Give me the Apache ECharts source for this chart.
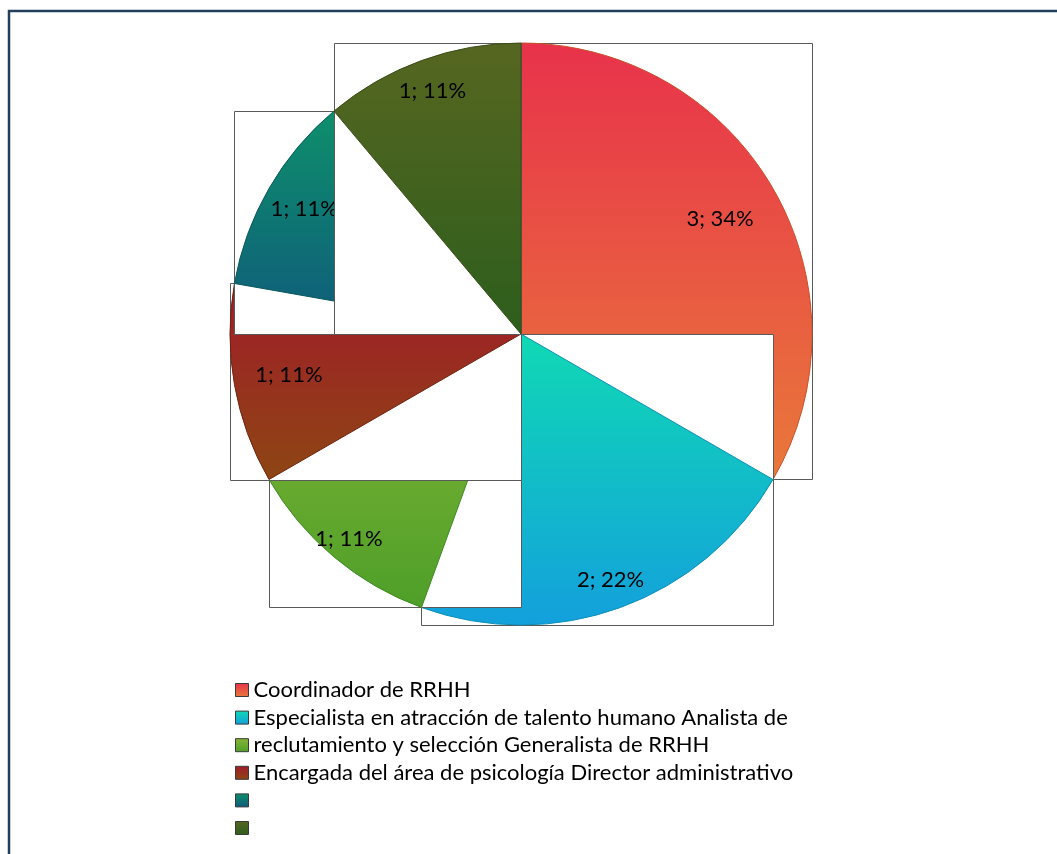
<!DOCTYPE html>
<html>
<head>
<meta charset="utf-8">
<script src="https://cdn.jsdelivr.net/npm/echarts@6/dist/echarts.min.js"></script>
<style>
  html, body { margin: 0; padding: 0; background: #ffffff; }
  #chart { width: 1057px; height: 854px; }
</style>
</head>
<body>
<div id="chart"></div>
<script>
// Puestos del área de RRHH: número de personas por cargo
const categories = [
  'Coordinador de RRHH',
  'Especialista en atracción de talento humano Analista de',
  'reclutamiento y selección Generalista de RRHH',
  'Encargada del área de psicología Director administrativo',
  ' ',
  '  '
];
const values = [3, 2, 1, 1, 1, 1];

// ---- styling / layout ----
const FONT = 'Lato, "Open Sans", sans-serif';
const CX = 521, CY = 334, R = 291;
// vertical gradient (top, bottom) and edge colour per slice
const sliceGradients = [
  ['#E8324B', '#E9793A'],
  ['#10D9B4', '#13A0DC'],
  ['#87B637', '#4E9F29'],
  ['#A11B2A', '#8D4613'],
  ['#0E8F6B', '#0F5A7B'],
  ['#566620', '#2D5E1D']
];
const sliceEdges = ['#C9502A', '#0E8FB8', '#3F8A25', '#6E2410', '#0B5A5E', '#3A4C18'];
// label distance from centre, as a share of the radius
const labelRadius = [0.79, 0.90, 0.92, 0.81, 0.86, 0.89];

function gradient(i) {
  return {
    type: 'linear', x: 0, y: 0, x2: 0, y2: 1,
    colorStops: [
      { offset: 0, color: sliceGradients[i][0] },
      { offset: 1, color: sliceGradients[i][1] }
    ]
  };
}

// slice angles, degrees clockwise from 12 o'clock
const total = values.reduce((a, b) => a + b, 0);
const startDeg = [], endDeg = [];
(function () {
  let acc = 0;
  values.forEach(v => {
    startDeg.push(acc / total * 360);
    acc += v;
    endDeg.push(acc / total * 360);
  });
})();

function pointAt(deg, r) {
  const a = deg * Math.PI / 180;
  return [CX + r * Math.sin(a), CY - r * Math.cos(a)];
}

// bounding box of each sector (centre, both ends and any crossed quadrant extreme)
function sectorBox(i) {
  const pts = [[CX, CY], pointAt(startDeg[i], R), pointAt(endDeg[i], R)];
  [0, 90, 180, 270, 360].forEach(k => {
    if (k > startDeg[i] && k < endDeg[i]) pts.push(pointAt(k, R));
  });
  const xs = pts.map(p => p[0]), ys = pts.map(p => p[1]);
  const x0 = Math.round(Math.min(...xs)) + 0.5, x1 = Math.round(Math.max(...xs)) + 0.5;
  const y0 = Math.round(Math.min(...ys)) + 0.5, y1 = Math.round(Math.max(...ys)) + 0.5;
  return { x: x0, y: y0, width: x1 - x0, height: y1 - y0 };
}

const series = [];
values.forEach((v, i) => {
  // white framed box behind the slice
  series.push({
    type: 'custom',
    name: 'box' + i,
    coordinateSystem: 'none',
    silent: true,
    animation: false,
    z: 2 * i + 1,
    data: [v],
    renderItem: function () {
      return {
        type: 'rect',
        shape: sectorBox(i),
        style: { fill: '#ffffff', stroke: '#5a5a5a', lineWidth: 1 }
      };
    }
  });
  // the slice itself (other slices of this ring stay invisible)
  series.push({
    type: 'pie',
    name: 'slice' + i,
    z: 2 * i + 2,
    silent: true,
    animation: false,
    center: [CX, CY],
    radius: R,
    startAngle: 90,
    clockwise: true,
    avoidLabelOverlap: false,
    percentPrecision: 0,
    emphasis: { disabled: true },
    labelLine: { show: false },
    label: {
      position: 'inside',
      formatter: '{c}; {d}%',
      fontFamily: FONT,
      fontSize: 22,
      color: '#000000'
    },
    labelLayout: function (p) {
      if (p.dataIndex !== i) return {};
      const mid = (startDeg[i] + endDeg[i]) / 2;
      const pt = pointAt(mid, R * labelRadius[i]);
      return { x: pt[0], y: pt[1], align: 'center', verticalAlign: 'middle' };
    },
    data: categories.map((name, j) => ({
      name: name,
      value: values[j],
      itemStyle: j === i
        ? { color: gradient(j), borderColor: sliceEdges[j], borderWidth: 1, opacity: 1 }
        : { opacity: 0 },
      label: { show: j === i }
    }))
  });
});

const chart = echarts.init(document.getElementById('chart'), null, { renderer: 'canvas' });
chart.setOption({
  backgroundColor: '#ffffff',
  animation: false,
  legend: {
    orient: 'vertical',
    left: 235,
    top: 679,
    padding: 0,
    icon: 'rect',
    itemWidth: 13,
    itemHeight: 13,
    itemGap: 5.6,
    selectedMode: false,
    textStyle: { fontFamily: FONT, fontSize: 22, color: '#000000', lineHeight: 20 },
    data: categories.map((name, i) => ({
      name: name,
      itemStyle: { color: gradient(i), opacity: 1, borderColor: '#3a3a3a', borderWidth: 1 }
    }))
  },
  graphic: [{
    type: 'rect',
    silent: true,
    z: 100,
    shape: { x: 9, y: 11, width: 1200, height: 1000 },
    style: { fill: 'none', stroke: '#243F5B', lineWidth: 2.5 }
  }],
  series: series
});
</script>
</body>
</html>
